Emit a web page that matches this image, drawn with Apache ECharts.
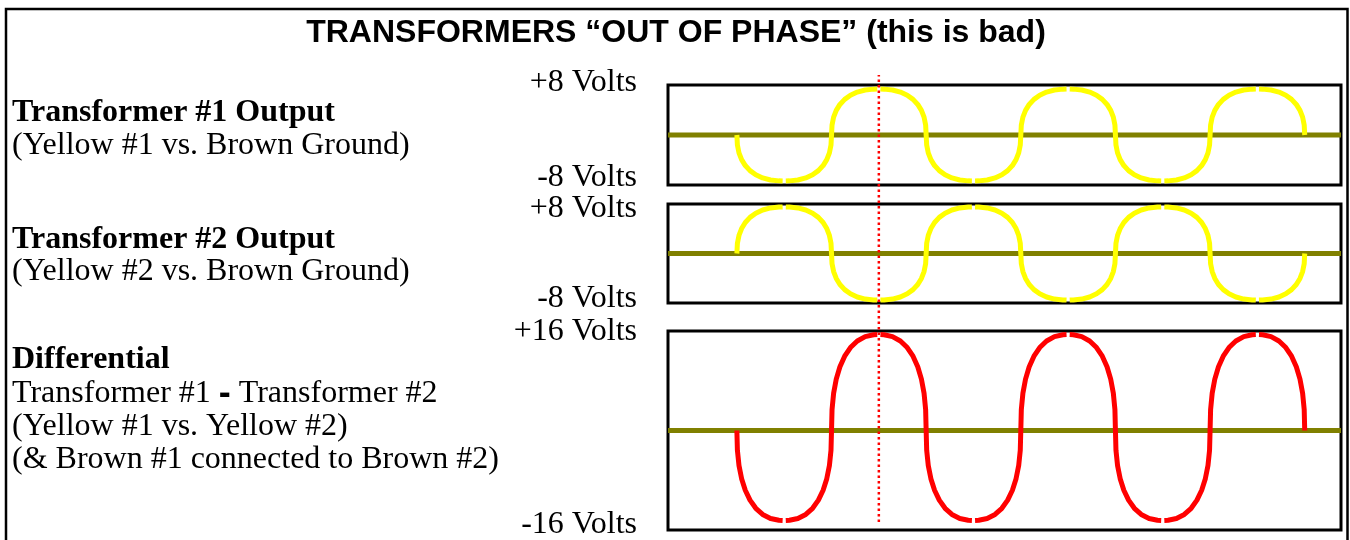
<!DOCTYPE html>
<html>
<head>
    <meta charset="utf-8">
    <title>Transformers out of phase</title>
    <script src="https://cdn.jsdelivr.net/npm/echarts@6.0.0/dist/echarts.min.js"></script>
    <style>
        body { margin: 0; background: #fff; }
        #chart1 { width: 1350px; height: 540px; }
    </style>
</head>
<body>
<div id="chart1"></div>

<script type="text/javascript">
    // phase in degrees, one point list shared by the three traces
    var phase = [
        0, 1, 4, 9, 16, 25, 36, 49, 64, 80, 87, 90, 93, 100, 116, 131, 144, 155, 164, 171, 176, 179,
        180, 181, 184, 189, 196, 205, 216, 229, 244, 260, 267, 270, 273, 280, 296, 311, 324, 335, 344, 351, 356, 359,
        360, 361, 364, 369, 376, 385, 396, 409, 424, 440, 447, 450, 453, 460, 476, 491, 504, 515, 524, 531, 536, 539,
        540, 541, 544, 549, 556, 565, 576, 589, 604, 620, 627, 630, 633, 640, 656, 671, 684, 695, 704, 711, 716, 719,
        720, 721, 724, 729, 736, 745, 756, 769, 784, 800, 807, 810, 813, 820, 836, 851, 864, 875, 884, 891, 896, 899,
        900, 901, 904, 909, 916, 925, 936, 949, 964, 980, 987, 990, 993, 1000, 1016, 1031, 1044, 1055, 1064, 1071, 1076, 1079,
        1080
    ];

    // Yellow #1 vs Brown ground (volts), null = small break at each crest
    var yellow1 = [
        0, -1.76, -3.11, -4.28, -5.32, -6.2, -6.92, -7.47, -7.83, -7.98, -8, null, -8, -7.98, -7.83, -7.47, -6.92, -6.2, -5.32, -4.28, -3.11, -1.76,
        0, 1.76, 3.11, 4.28, 5.32, 6.2, 6.92, 7.47, 7.83, 7.98, 8, null, 8, 7.98, 7.83, 7.47, 6.92, 6.2, 5.32, 4.28, 3.11, 1.76,
        0, -1.76, -3.11, -4.28, -5.32, -6.2, -6.92, -7.47, -7.83, -7.98, -8, null, -8, -7.98, -7.83, -7.47, -6.92, -6.2, -5.32, -4.28, -3.11, -1.76,
        0, 1.76, 3.11, 4.28, 5.32, 6.2, 6.92, 7.47, 7.83, 7.98, 8, null, 8, 7.98, 7.83, 7.47, 6.92, 6.2, 5.32, 4.28, 3.11, 1.76,
        0, -1.76, -3.11, -4.28, -5.32, -6.2, -6.92, -7.47, -7.83, -7.98, -8, null, -8, -7.98, -7.83, -7.47, -6.92, -6.2, -5.32, -4.28, -3.11, -1.76,
        0, 1.76, 3.11, 4.28, 5.32, 6.2, 6.92, 7.47, 7.83, 7.98, 8, null, 8, 7.98, 7.83, 7.47, 6.92, 6.2, 5.32, 4.28, 3.11, 1.76,
        0
    ];

    // Yellow #2 vs Brown ground (volts)
    var yellow2 = [
        0, 1.76, 3.11, 4.28, 5.32, 6.2, 6.92, 7.47, 7.83, 7.98, 8, null, 8, 7.98, 7.83, 7.47, 6.92, 6.2, 5.32, 4.28, 3.11, 1.76,
        0, -1.76, -3.11, -4.28, -5.32, -6.2, -6.92, -7.47, -7.83, -7.98, -8, null, -8, -7.98, -7.83, -7.47, -6.92, -6.2, -5.32, -4.28, -3.11, -1.76,
        0, 1.76, 3.11, 4.28, 5.32, 6.2, 6.92, 7.47, 7.83, 7.98, 8, null, 8, 7.98, 7.83, 7.47, 6.92, 6.2, 5.32, 4.28, 3.11, 1.76,
        0, -1.76, -3.11, -4.28, -5.32, -6.2, -6.92, -7.47, -7.83, -7.98, -8, null, -8, -7.98, -7.83, -7.47, -6.92, -6.2, -5.32, -4.28, -3.11, -1.76,
        0, 1.76, 3.11, 4.28, 5.32, 6.2, 6.92, 7.47, 7.83, 7.98, 8, null, 8, 7.98, 7.83, 7.47, 6.92, 6.2, 5.32, 4.28, 3.11, 1.76,
        0, -1.76, -3.11, -4.28, -5.32, -6.2, -6.92, -7.47, -7.83, -7.98, -8, null, -8, -7.98, -7.83, -7.47, -6.92, -6.2, -5.32, -4.28, -3.11, -1.76,
        0
    ];

    // Yellow #1 vs Yellow #2 (volts)
    var differential = [
        0, -3.3, -5.83, -8.03, -9.97, -11.62, -12.98, -14.01, -14.68, -14.97, -15, null, -15, -14.97, -14.68, -14.01, -12.98, -11.62, -9.97, -8.03, -5.83, -3.3,
        0, 3.52, 6.21, 8.57, 10.63, 12.4, 13.84, 14.94, 15.66, 15.97, 16, null, 16, 15.97, 15.66, 14.94, 13.84, 12.4, 10.63, 8.57, 6.21, 3.52,
        0, -3.3, -5.83, -8.03, -9.97, -11.62, -12.98, -14.01, -14.68, -14.97, -15, null, -15, -14.97, -14.68, -14.01, -12.98, -11.62, -9.97, -8.03, -5.83, -3.3,
        0, 3.52, 6.21, 8.57, 10.63, 12.4, 13.84, 14.94, 15.66, 15.97, 16, null, 16, 15.97, 15.66, 14.94, 13.84, 12.4, 10.63, 8.57, 6.21, 3.52,
        0, -3.3, -5.83, -8.03, -9.97, -11.62, -12.98, -14.01, -14.68, -14.97, -15, null, -15, -14.97, -14.68, -14.01, -12.98, -11.62, -9.97, -8.03, -5.83, -3.3,
        0, 3.52, 6.21, 8.57, 10.63, 12.4, 13.84, 14.94, 15.66, 15.97, 16, null, 16, 15.97, 15.66, 14.94, 13.84, 12.4, 10.63, 8.57, 6.21, 3.52,
        0
    ];

    // brown ground line, across the whole panel
    var groundPhase = [-131, 1149];
    var groundVolts = [0, 0];

    // the dotted marker at the first peak
    var markerPhase = 270;

    var panelLabels = [
        ['+8 Volts', '-8 Volts'],
        ['+8 Volts', '-8 Volts'],
        ['+16 Volts', '-16 Volts']
    ];

    function pairs(xs, ys) {
        return xs.map(function (x, i) {
            return [x, ys[i] == null ? '-' : ys[i]];
        });
    }

    var serif = '32px "Liberation Serif", "Times New Roman", serif';
    var serifBold = 'bold 32px "Liberation Serif", "Times New Roman", serif';

    function txt(text, x, y, font, align) {
        return {
            type: 'text', x: x, y: y, silent: true,
            style: { text: text, font: font, fill: '#000', textAlign: align || 'left', textVerticalAlign: 'middle' }
        };
    }

    function wave(xi, data, color) {
        return {
            type: 'line', xAxisIndex: xi, yAxisIndex: xi, z: 3,
            data: pairs(phase, data), showSymbol: false, connectNulls: false,
            lineStyle: { color: color, width: 5, cap: 'butt', join: 'round' }
        };
    }

    function ground(xi) {
        return {
            type: 'line', xAxisIndex: xi, yAxisIndex: xi, z: 2,
            data: pairs(groundPhase, groundVolts), showSymbol: false,
            lineStyle: { color: '#808000', width: 5 }
        };
    }

    var xRange = { type: 'value', min: -131, max: 1149, show: false };

    var myChart1 = echarts.init(document.getElementById('chart1'));
    myChart1.setOption({
        animation: false,
        backgroundColor: '#fff',
        grid: [
            { left: 668, right: 9, top: 85, height: 100, show: true, borderColor: '#000', borderWidth: 3 },
            { left: 668, right: 9, top: 204, height: 99, show: true, borderColor: '#000', borderWidth: 3 },
            { left: 668, right: 9, top: 331, height: 199, show: true, borderColor: '#000', borderWidth: 3 },
            { left: 668, right: 9, top: 75, height: 447, show: false }
        ],
        xAxis: [
            Object.assign({ gridIndex: 0 }, xRange),
            Object.assign({ gridIndex: 1 }, xRange),
            Object.assign({ gridIndex: 2 }, xRange),
            Object.assign({ gridIndex: 3 }, xRange)
        ],
        yAxis: [
            { gridIndex: 0, type: 'value', min: -8.7, max: 8.7, show: false },
            { gridIndex: 1, type: 'value', min: -8.5, max: 8.5, show: false },
            { gridIndex: 2, type: 'value', min: -16.6, max: 16.6, show: false },
            { gridIndex: 3, type: 'value', min: 0, max: 1, show: false }
        ],
        graphic: [
            {
                type: 'rect', silent: true, z: 10,
                shape: { x: 6, y: 9, width: 1341.5, height: 600 },
                style: { fill: 'none', stroke: '#000', lineWidth: 2.5 }
            },
            txt('TRANSFORMERS \u201COUT OF PHASE\u201D (this is bad)', 676, 33,
                'bold 32px "Liberation Sans", Arial, sans-serif', 'center'),

            txt('Transformer #1 Output', 12, 113, serifBold),
            txt('(Yellow #1 vs. Brown Ground)', 12, 146, serif),
            txt('Transformer #2 Output', 12, 240, serifBold),
            txt('(Yellow #2 vs. Brown Ground)', 12, 272, serif),
            txt('Differential', 12, 360, serifBold),
            {
                type: 'text', x: 12, y: 394, silent: true,
                style: {
                    text: '{a|Transformer #1 }{b|-}{a| Transformer #2}',
                    textVerticalAlign: 'middle',
                    rich: {
                        a: { font: serif, fill: '#000' },
                        b: { font: 'bold 36px "Liberation Sans", Arial, sans-serif', fill: '#000' }
                    }
                }
            },
            txt('(Yellow #1 vs. Yellow #2)', 12, 427, serif),
            txt('(& Brown #1 connected to Brown #2)', 12, 460, serif),

            txt(panelLabels[0][0], 637, 83, serif, 'right'),
            txt(panelLabels[0][1], 637, 178, serif, 'right'),
            txt(panelLabels[1][0], 637, 209, serif, 'right'),
            txt(panelLabels[1][1], 637, 299, serif, 'right'),
            txt(panelLabels[2][0], 637, 332, serif, 'right'),
            txt(panelLabels[2][1], 637, 525, serif, 'right')
        ],
        series: [
            ground(0),
            wave(0, yellow1, '#ffff00'),
            ground(1),
            wave(1, yellow2, '#ffff00'),
            ground(2),
            wave(2, differential, '#ff0000'),
            {
                // red dotted marker through all three panels
                type: 'line', xAxisIndex: 3, yAxisIndex: 3, z: 5,
                data: [[markerPhase, 0], [markerPhase, 1]], showSymbol: false,
                lineStyle: { color: '#ff0000', width: 2.5, type: [2.5, 3] }
            }
        ]
    });
</script>
</body>
</html>
